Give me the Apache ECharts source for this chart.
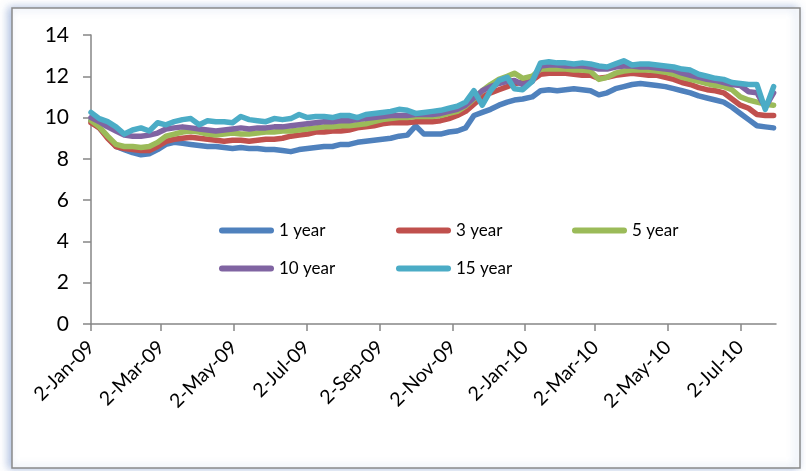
<!DOCTYPE html>
<html>
<head>
<meta charset="utf-8">
<script src="https://cdn.jsdelivr.net/npm/echarts@6/dist/echarts.min.js"></script>
<style>
  html, body { margin: 0; padding: 0; background: #fff; }
  #chart { width: 806px; height: 471px; }
</style>
</head>
<body>
<div id="chart"></div>
<script>
// Weekly observation dates (Fridays), Jan 2009 – Jul 2010
const dates = [
  '2009-01-02','2009-01-09','2009-01-16','2009-01-23','2009-01-30','2009-02-06','2009-02-13','2009-02-20','2009-02-27','2009-03-06',
  '2009-03-13','2009-03-20','2009-03-27','2009-04-03','2009-04-10','2009-04-17','2009-04-24','2009-05-01','2009-05-08','2009-05-15',
  '2009-05-22','2009-05-29','2009-06-05','2009-06-12','2009-06-19','2009-06-26','2009-07-03','2009-07-10','2009-07-17','2009-07-24',
  '2009-07-31','2009-08-07','2009-08-14','2009-08-21','2009-08-28','2009-09-04','2009-09-11','2009-09-18','2009-09-25','2009-10-02',
  '2009-10-09','2009-10-16','2009-10-23','2009-10-30','2009-11-06','2009-11-13','2009-11-20','2009-11-27','2009-12-04','2009-12-11',
  '2009-12-18','2009-12-24','2009-12-31','2010-01-08','2010-01-15','2010-01-22','2010-01-29','2010-02-05','2010-02-12','2010-02-19',
  '2010-02-26','2010-03-05','2010-03-12','2010-03-19','2010-03-26','2010-04-02','2010-04-09','2010-04-16','2010-04-23','2010-04-30',
  '2010-05-07','2010-05-14','2010-05-21','2010-05-28','2010-06-04','2010-06-11','2010-06-18','2010-06-25','2010-07-02','2010-07-09',
  '2010-07-16','2010-07-23','2010-07-30'
];

// Yields (%) by maturity
const oneYear = [
  9.85, 9.5, 9.05, 8.6, 8.45, 8.3, 8.2, 8.25, 8.45, 8.7,
  8.8, 8.75, 8.7, 8.65, 8.6, 8.6, 8.55, 8.5, 8.55, 8.5,
  8.5, 8.45, 8.45, 8.4, 8.35, 8.45, 8.5, 8.55, 8.6, 8.6,
  8.7, 8.7, 8.8, 8.85, 8.9, 8.95, 9.0, 9.1, 9.15, 9.6,
  9.2, 9.2, 9.2, 9.3, 9.35, 9.5, 10.1, 10.25, 10.4, 10.6,
  10.75, 10.85, 10.9, 11.0, 11.3, 11.35, 11.3, 11.35, 11.4, 11.35,
  11.3, 11.1, 11.2, 11.4, 11.5, 11.6, 11.65, 11.6, 11.55, 11.5,
  11.4, 11.3, 11.2, 11.05, 10.95, 10.85, 10.75, 10.5, 10.2, 9.9,
  9.6, 9.55, 9.5
];
const threeYear = [
  9.75, 9.5, 9.0, 8.6, 8.5, 8.45, 8.4, 8.4, 8.6, 8.85,
  8.95, 9.0, 9.05, 9.0, 8.95, 8.9, 8.85, 8.9, 8.9, 8.85,
  8.9, 8.95, 8.95, 9.0, 9.1, 9.15, 9.2, 9.3, 9.3, 9.35,
  9.35, 9.4, 9.5, 9.55, 9.6, 9.7, 9.75, 9.75, 9.75, 9.8,
  9.8, 9.8, 9.85, 9.95, 10.1, 10.3, 10.65, 11.0, 11.2, 11.35,
  11.5, 11.65, 11.7, 11.8, 12.1, 12.15, 12.15, 12.15, 12.1, 12.05,
  12.05, 11.9, 11.95, 12.05, 12.1, 12.15, 12.1, 12.05, 12.05, 11.95,
  11.85, 11.7, 11.6, 11.45, 11.35, 11.3, 11.2, 10.9, 10.6, 10.45,
  10.15, 10.1, 10.1
];
const fiveYear = [
  9.85, 9.55, 9.1, 8.7, 8.6, 8.6, 8.55, 8.6, 8.8, 9.1,
  9.2, 9.3, 9.35, 9.3, 9.2, 9.15, 9.2, 9.25, 9.2, 9.2,
  9.25, 9.3, 9.3, 9.35, 9.35, 9.4, 9.45, 9.5, 9.55, 9.55,
  9.6, 9.6, 9.65, 9.7, 9.8, 9.9, 9.95, 10.0, 10.0, 10.05,
  10.05, 10.05, 10.1, 10.2, 10.3, 10.55, 10.9, 11.3, 11.6, 11.85,
  12.0, 12.15, 11.9, 12.0, 12.35, 12.35, 12.35, 12.35, 12.3, 12.3,
  12.25, 11.85, 11.95, 12.15, 12.25, 12.3, 12.3, 12.3, 12.25, 12.2,
  12.1, 11.95, 11.85, 11.75, 11.65, 11.55, 11.5, 11.35, 11.0, 10.85,
  10.75, 10.65, 10.6
];
const tenYear = [
  10.0, 9.8, 9.55, 9.35, 9.15, 9.1, 9.1, 9.15, 9.25, 9.45,
  9.5, 9.55, 9.5, 9.45, 9.4, 9.35, 9.4, 9.45, 9.5, 9.45,
  9.5, 9.5, 9.55, 9.55, 9.6, 9.65, 9.7, 9.75, 9.8, 9.8,
  9.85, 9.85, 9.9, 9.95, 10.0, 10.05, 10.1, 10.1, 10.1, 10.15,
  10.15, 10.15, 10.2, 10.3, 10.4, 10.6, 10.95, 11.3, 11.5, 11.65,
  11.75, 11.8, 11.6, 11.75, 12.5, 12.55, 12.55, 12.5, 12.5, 12.5,
  12.45, 12.35, 12.35, 12.45, 12.5, 12.5, 12.45, 12.45, 12.4, 12.35,
  12.3, 12.15, 12.05, 11.95, 11.85, 11.8, 11.7, 11.6, 11.55, 11.25,
  11.2, 10.5, 11.2
];
const fifteenYear = [
  10.25, 9.95, 9.8, 9.55, 9.2, 9.4, 9.5, 9.35, 9.75, 9.65,
  9.8, 9.9, 9.95, 9.65, 9.85, 9.8, 9.8, 9.75, 10.05, 9.9,
  9.85, 9.8, 9.95, 9.9, 9.95, 10.15, 10.0, 10.05, 10.05, 10.0,
  10.1, 10.1, 10.0, 10.15, 10.2, 10.25, 10.3, 10.4, 10.35, 10.2,
  10.25, 10.3, 10.35, 10.45, 10.55, 10.75, 11.3, 10.6, 11.3, 11.8,
  11.95, 11.4, 11.35, 11.75, 12.65, 12.7, 12.65, 12.65, 12.6, 12.65,
  12.6, 12.5, 12.45, 12.6, 12.75, 12.55, 12.6, 12.6, 12.55, 12.5,
  12.45, 12.35, 12.3, 12.1, 12.0, 11.9, 11.85, 11.7, 11.65, 11.6,
  11.6, 10.4, 11.5
];

const seriesNames = ['1 year', '3 year', '5 year', '10 year', '15 year'];
const tickDates = ['2009-01-02','2009-03-02','2009-05-02','2009-07-02','2009-09-02',
                   '2009-11-02','2010-01-02','2010-03-02','2010-05-02','2010-07-02'];
const axisEndDate = '2010-08-01';
const monthNames = ['Jan','Feb','Mar','Apr','May','Jun','Jul','Aug','Sep','Oct','Nov','Dec'];

const DAY = 86400000;
const origin = Date.parse(dates[0] + 'T00:00:00Z');
const dayOf = s => Math.round((Date.parse(s + 'T00:00:00Z') - origin) / DAY);
const fmtDay = v => {
  const d = new Date(origin + Math.round(v) * DAY);
  return d.getUTCDate() + '-' + monthNames[d.getUTCMonth()] + '-' + String(d.getUTCFullYear()).slice(2);
};

const colors = ['#4F81BD', '#C0504D', '#9BBB59', '#8064A2', '#4BACC6'];
const values = [oneYear, threeYear, fiveYear, tenYear, fifteenYear];
const tickDays = tickDates.map(dayOf);

const font = 'Lato, "Liberation Sans", sans-serif';
const legendIcon = 'path://M3,0 H52 A3,3 0 0 1 52,6 H3 A3,3 0 0 1 3,0 Z';
const legendSpots = [[219, 222], [396, 222], [572, 222], [219, 260], [396, 260]];

const chart = echarts.init(document.getElementById('chart'), null, { renderer: 'canvas' });
chart.setOption({
  animation: false,
  backgroundColor: '#fff',
  color: colors,
  graphic: [{
    type: 'rect',
    z: -10,
    shape: { x: 12, y: 8, width: 788, height: 460 },
    style: {
      fill: '#fff', stroke: '#8a8a8a', lineWidth: 1.5,
      shadowColor: 'rgba(110,140,200,0.55)', shadowBlur: 8, shadowOffsetX: -3
    }
  }],
  legend: seriesNames.map((n, i) => ({
    data: [n],
    left: legendSpots[i][0], top: legendSpots[i][1],
    padding: 0,
    icon: legendIcon,
    itemWidth: 55, itemHeight: 6,
    textStyle: { fontFamily: font, fontSize: 17, color: '#000' },
    selectedMode: false
  })),
  grid: { left: 91, right: 30, top: 35, bottom: 147 },
  xAxis: {
    type: 'value',
    min: 0,
    max: dayOf(axisEndDate),
    splitLine: { show: false },
    axisLine: { lineStyle: { color: '#868686', width: 1.5 } },
    axisTick: { show: true, length: 7, customValues: tickDays, lineStyle: { color: '#868686', width: 1.5 } },
    axisLabel: {
      customValues: tickDays,
      formatter: v => fmtDay(v),
      rotate: 45,
      margin: 20,
      fontFamily: font, fontSize: 19.5, color: '#000'
    }
  },
  yAxis: {
    type: 'value',
    min: 0, max: 14, interval: 2,
    splitLine: { show: false },
    axisLine: { show: true, lineStyle: { color: '#868686', width: 1.5 } },
    axisTick: { show: true, length: 8, lineStyle: { color: '#868686', width: 1.5 } },
    axisLabel: { margin: 22, fontFamily: font, fontSize: 21, color: '#000' }
  },
  series: seriesNames.map((n, i) => ({
    name: n,
    type: 'line',
    showSymbol: false,
    symbol: 'none',
    data: dates.map((d, j) => [dayOf(d), values[i][j]]),
    lineStyle: { width: 5.5, color: colors[i], cap: 'round', join: 'round' },
    itemStyle: { color: colors[i] }
  }))
});
</script>
</body>
</html>
